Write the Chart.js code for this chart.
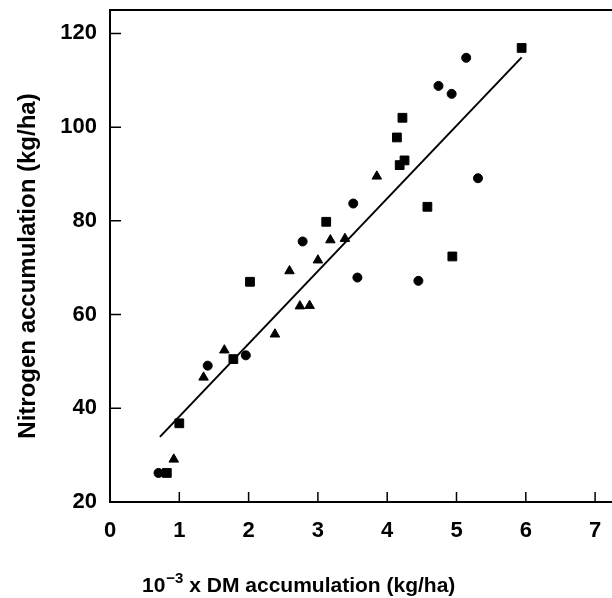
<!DOCTYPE html>
<html>
<head>
<meta charset="utf-8">
<script src="https://cdn.jsdelivr.net/npm/chart.js@4.4.1/dist/chart.umd.min.js"></script>
<style>
  html, body { margin: 0; padding: 0; background: #fff; }
  #wrap { width: 612px; height: 598px; }
</style>
</head>
<body>
<div id="wrap"><canvas id="myChart"></canvas></div>
<script>
const circleX = [0.70, 1.41, 1.96, 2.78, 3.51, 3.57, 4.45, 4.74, 4.93, 5.14, 5.31];
const circleY = [26.2, 49.1, 51.3, 75.6, 83.7, 67.9, 67.2, 108.8, 107.1, 114.8, 89.1];
const squareX = [0.82, 1.00, 1.78, 2.02, 3.12, 4.14, 4.18, 4.22, 4.25, 4.58, 4.94, 5.94];
const squareY = [26.2, 36.8, 50.5, 67.0, 79.8, 97.8, 91.9, 102.0, 92.9, 83.0, 72.4, 116.9];
const triX = [0.92, 1.35, 1.65, 2.38, 2.59, 2.74, 2.88, 3.00, 3.18, 3.39, 3.85];
const triY = [29.1, 46.6, 52.4, 55.8, 69.3, 61.8, 61.9, 71.6, 75.9, 76.2, 89.5];
const lineX = [0.72, 5.94];
const lineY = [33.9, 114.9];
const xTicks = [0, 1, 2, 3, 4, 5, 6, 7];
const yTicks = [20, 40, 60, 80, 100, 120];
const yTitle = 'Nitrogen accumulation (kg/ha)';
const xTitle = ['10', '\u22123', ' x DM accumulation (kg/ha)'];

function pts(xs, ys) {
  return xs.map((x, i) => ({ x: x, y: ys[i] }));
}

const fam = '"Liberation Sans", Arial, sans-serif';
const tickFont = { family: fam, size: 22, weight: 'bold' };

// box on three sides, inward tick marks, axis titles (x one has a superscript)
const frame = {
  id: 'frame',
  afterDatasetsDraw(chart) {
    const ctx = chart.ctx;
    const a = chart.chartArea;
    const xs = chart.scales.x, ys = chart.scales.y;
    ctx.save();
    ctx.strokeStyle = '#000';
    ctx.lineWidth = 2;
    ctx.beginPath();
    ctx.moveTo(chart.width, a.top);
    ctx.lineTo(a.left, a.top);
    ctx.lineTo(a.left, a.bottom);
    ctx.lineTo(chart.width, a.bottom);
    ctx.stroke();
    ctx.lineWidth = 1.5;
    ctx.beginPath();
    yTicks.forEach(v => {
      const p = ys.getPixelForValue(v);
      ctx.moveTo(a.left, p);
      ctx.lineTo(a.left + 11, p);
    });
    xTicks.forEach(v => {
      const p = xs.getPixelForValue(v);
      ctx.moveTo(p, a.bottom);
      ctx.lineTo(p, a.bottom - 10);
    });
    ctx.stroke();

    ctx.fillStyle = '#000';
    ctx.textBaseline = 'alphabetic';
    // x title
    let x = 142;
    const base = 592;
    ctx.textAlign = 'left';
    ctx.font = 'bold 21px ' + fam;
    ctx.fillText(xTitle[0], x, base);
    x += ctx.measureText(xTitle[0]).width + 1;
    ctx.font = 'bold 15px ' + fam;
    ctx.fillText(xTitle[1], x, base - 9);
    x += ctx.measureText(xTitle[1]).width;
    ctx.font = 'bold 21px ' + fam;
    ctx.fillText(xTitle[2], x, base);
    // y title
    ctx.translate(35, 266);
    ctx.rotate(-Math.PI / 2);
    ctx.textAlign = 'center';
    ctx.font = 'bold 24px ' + fam;
    ctx.fillText(yTitle, 0, 0);
    ctx.restore();
  }
};

config = {
  type: 'scatter',
  data: {
    datasets: [{
      data: pts(circleX, circleY),
      pointStyle: 'circle',
      pointRadius: 4.5,
      backgroundColor: '#000',
      borderColor: '#000'
    }, {
      data: pts(squareX, squareY),
      pointStyle: 'rect',
      pointRadius: 6.2,
      backgroundColor: '#000',
      borderColor: '#000'
    }, {
      data: pts(triX, triY),
      pointStyle: 'triangle',
      pointRadius: 5.5,
      backgroundColor: '#000',
      borderColor: '#000'
    }, {
      type: 'line',
      data: pts(lineX, lineY),
      borderColor: '#000',
      borderWidth: 2,
      pointRadius: 0,
      fill: false
    }]
  },
  options: {
    responsive: true,
    maintainAspectRatio: false,
    animation: false,
    layout: { padding: { left: 0, top: 10, right: 0, bottom: 0 } },
    scales: {
      x: {
        type: 'linear',
        min: 0,
        max: 7.14,
        afterBuildTicks: s => { s.ticks = xTicks.map(v => ({ value: v })); },
        afterFit: s => { s.height = 96; },
        grid: { display: false },
        border: { display: false },
        ticks: { color: '#000', font: tickFont, padding: 8 }
      },
      y: {
        min: 20,
        max: 125,
        afterBuildTicks: s => { s.ticks = yTicks.map(v => ({ value: v })); },
        afterFit: s => { s.width = 110; s.paddingTop = 0; s.paddingBottom = 0; },
        grid: { display: false },
        border: { display: false },
        ticks: { color: '#000', font: tickFont, padding: 5 }
      }
    },
    plugins: {
      legend: { display: false },
      tooltip: { enabled: false }
    }
  },
  plugins: [frame]
};

function buildChart() {
  const ctx = document.getElementById('myChart').getContext('2d');
  return new Chart(ctx, config);
}

window.addEventListener('load', () => {
  const myChart = buildChart();
});
</script>
</body>
</html>
